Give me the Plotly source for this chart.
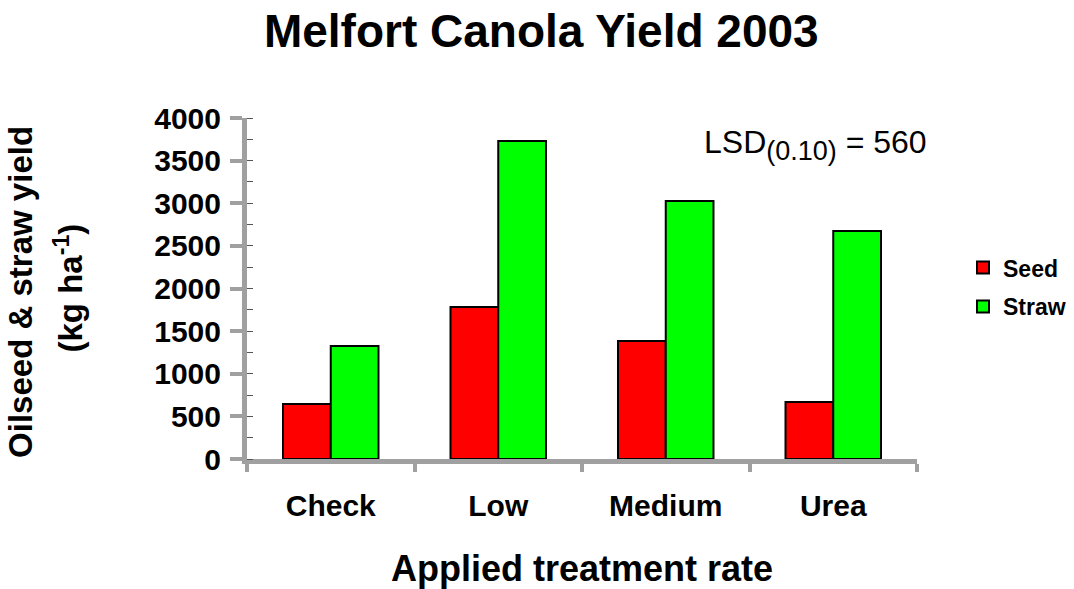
import plotly.graph_objects as go

categories = ["Check", "Low", "Medium", "Urea"]
seed = [645, 1783, 1384, 669]
straw = [1325, 3730, 3026, 2675]
y_ticks = [0, 500, 1000, 1500, 2000, 2500, 3000, 3500, 4000]

FONT = "Liberation Sans, Arial, sans-serif"
AXIS_GRAY = "#a0a0a0"
L, R, T, B = 247, 157, 118, 130
PW = 1074 - L - R

fig = go.Figure()
fig.add_trace(go.Bar(name="Seed", x=categories, y=seed, legendgroup="seed",
                     marker=dict(color="#ff0000", line=dict(color="black", width=2))))
fig.add_trace(go.Bar(name="Straw", x=categories, y=straw, legendgroup="straw",
                     marker=dict(color="#00ff00", line=dict(color="black", width=2))))

fig.update_layout(
    width=1074, height=589,
    margin=dict(l=L, r=R, t=T, b=B, autoexpand=False),
    paper_bgcolor="white", plot_bgcolor="white",
    barmode="group", bargap=0.43, bargroupgap=0,
    font=dict(family=FONT, color="black"),
    title=dict(text="<b>Melfort Canola Yield 2003</b>", x=0.504, xanchor="center",
               y=0.948, yanchor="middle", font=dict(size=46, family=FONT)),
    legend=dict(x=(1003 - 40 - L) / PW, y=0.504, xanchor="left", yanchor="middle",
                font=dict(size=23, family=FONT, weight="bold"),
                traceorder="grouped", tracegroupgap=6,
                bgcolor="rgba(0,0,0,0)"),
    showlegend=True,
)
fig.update_xaxes(
    automargin=False,
    showline=True, linecolor=AXIS_GRAY, linewidth=5,
    ticks="outside", tickson="boundaries", ticklen=8, tickcolor=AXIS_GRAY, tickwidth=4,
    tickfont=dict(size=30, family=FONT, weight="bold"),
    ticklabelstandoff=16,
    title=dict(text="<b>Applied treatment rate</b>", font=dict(size=36, family=FONT), standoff=37),
    showgrid=False, zeroline=False,
)
fig.update_yaxes(
    automargin=False,
    range=[0, 4000], tickvals=y_ticks,
    showline=True, linecolor=AXIS_GRAY, linewidth=5,
    ticks="outside", ticklen=12, tickcolor=AXIS_GRAY, tickwidth=4,
    ticklabelstandoff=3,
    tickfont=dict(size=30, family=FONT, weight="bold"),
    minor=dict(ticks="inside", dtick=250, ticklen=6, tickcolor="#555555", tickwidth=1, showgrid=False),
    showgrid=False, zeroline=False,
)
fig.add_annotation(
    xref="paper", yref="paper", x=(21 - L) / PW, y=0.49, xanchor="center", yanchor="middle",
    text="<b>Oilseed & straw yield</b>", textangle=-90, showarrow=False,
    font=dict(size=33, family=FONT, color="black"),
)
fig.add_annotation(
    xref="paper", yref="paper", x=(68 - L) / PW, y=0.50, xanchor="center", yanchor="middle",
    text="<b>(kg ha<sup>-1</sup>)</b>", textangle=-90, showarrow=False,
    font=dict(size=33, family=FONT, color="black"),
)
fig.add_annotation(
    xref="paper", yref="paper", x=(702 - L) / PW, y=0.921, xanchor="left", yanchor="middle",
    text="LSD<sub><span style='font-size:27px'>(0.10)</span></sub> = 560", showarrow=False,
    font=dict(size=32, family=FONT, color="black"),
)

fig.write_html("out.html", config={"displayModeBar": False},
               post_script="document.body.style.margin='0';")
